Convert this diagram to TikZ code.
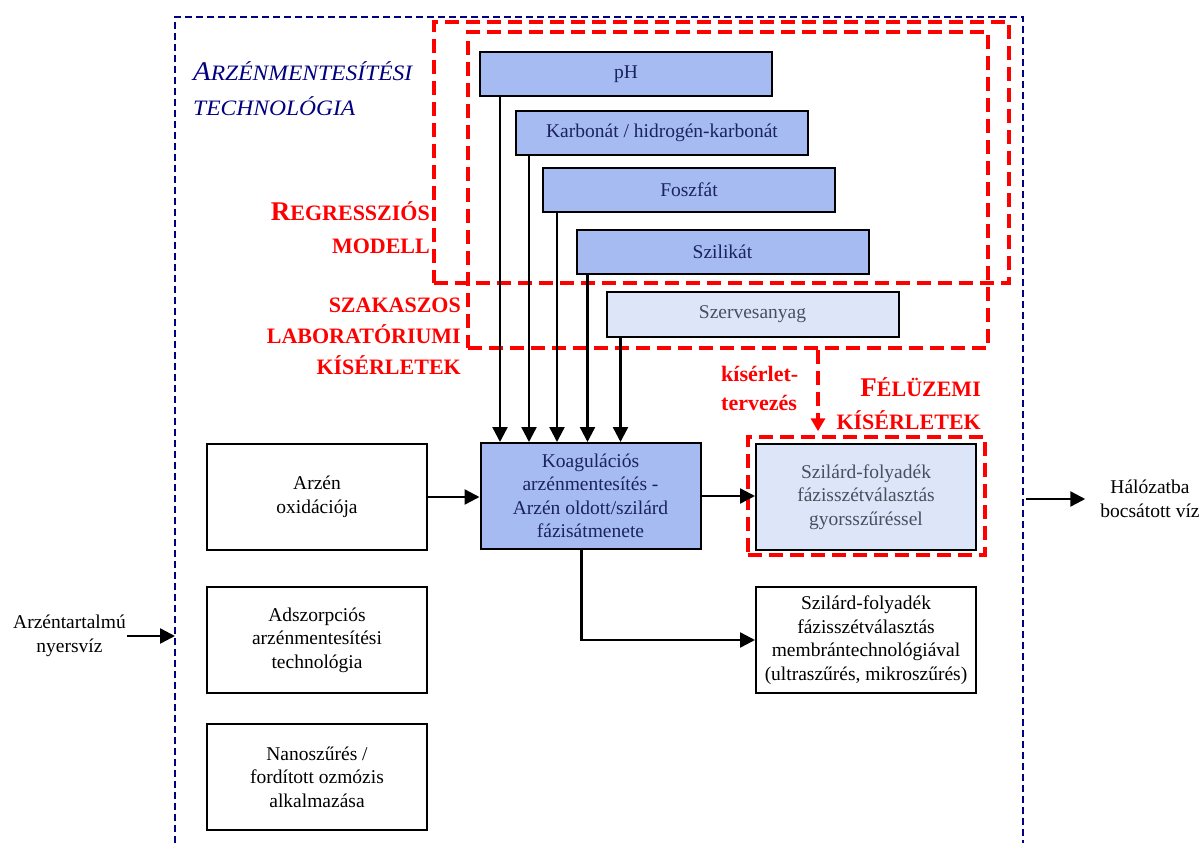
\documentclass[tikz,border=0pt]{standalone}
\usepackage{fontspec}
\setmainfont{Liberation Serif}
\newfontfamily\widefont[FakeStretch=1.07]{Liberation Serif}
\usetikzlibrary{arrows.meta,positioning}
\definecolor{AsNavy}{HTML}{000080}
\definecolor{AsInk}{HTML}{1C2260}
\definecolor{AsGrey}{HTML}{4A4F5E}
\definecolor{AsRed}{HTML}{FF0000}
\definecolor{AsBlue}{HTML}{A5BBF2}
\definecolor{AsPale}{HTML}{DDE6F9}
\tikzset{
  asbox/.style={
    draw=black,
    line width=2pt,
    minimum width=220pt,
    minimum height=106pt,
    align=center,
    inner sep=4pt,
    font=\fontsize{19.5}{23.5}\selectfont
  },
  asfactor/.style={
    asbox,
    fill=AsBlue,
    text=AsInk,
    minimum width=292pt,
    minimum height=44pt
  },
  asfaint/.style={
    asfactor,
    fill=AsPale,
    text=AsGrey
  },
  asframe/.style={draw=AsRed,line width=3.5pt,dash pattern=on 14pt off 7pt},
  asouter/.style={draw=AsNavy,line width=1.6pt,dash pattern=on 7pt off 4pt},
  asnote/.style={text=AsRed,inner sep=0pt,font=\fontsize{22}{32}\selectfont\bfseries},
  aslabel/.style={align=center,inner sep=1pt,font=\fontsize{19.5}{23.5}\selectfont},
  asarrow/.style={-{Triangle[length=15pt,width=15pt]},line width=2.4pt},
  asredarrow/.style={asframe,-{Triangle[length=13pt,width=14pt]}}
}

\begin{document}
\begin{tikzpicture}[x=1pt,y=-1pt]
    \useasboundingbox (0,0) rectangle (1204,843);
    % technology frame, open at the bottom
    \coordinate (frameSW) at (175,843);
    \coordinate (frameNE) at (1023,17);
    \coordinate (frameSE) at (1023,843);
    \draw[asouter] (frameSW) |- (frameNE) -- (frameSE);
    \node[anchor=west,align=left,inner sep=0pt,text=AsNavy,font=\widefont\itshape\fontsize{22}{35}\selectfont] (title) at (193,89) {{\fontsize{27}{35}\selectfont A}RZÉNMENTESÍTÉSI\\TECHNOLÓGIA};

    % experiment frames
    \node[asframe,minimum width=575pt,minimum height=261pt] (regmodel) at (721.5,152.5) {};
    \node[asframe,minimum width=520pt,minimum height=316pt] (szakaszos) at (728,190) {};
    \node[asframe,minimum width=237pt,minimum height=118pt] (feluzemi) at (866.5,496) {};

    % water quality factors
    \node[asfactor] (ph) at (626,74) {pH};
    \node[asfactor] (karbonat) at (662,132.5) {Karbonát / hidrogén-karbonát};
    \node[asfactor] (foszfat) at (689,190) {Foszfát};
    \node[asfactor] (szilikat) at (722.5,251.5) {Szilikát};
    \node[asfaint,minimum height=45pt] (szerves) at (752.5,314.5) {Szervesanyag};

    % treatment steps
    \node[asbox] (oxid) at (317,497) {Arzén\\oxidációja};
    \node[asbox] (adszorp) at (317,640) {Adszorpciós\\arzénmentesítési\\technológia};
    \node[asbox] (nano) at (317,777) {Nanoszűrés /\\fordított ozmózis\\alkalmazása};
    \node[asbox,fill=AsBlue,text=AsInk] (koag) at (590.5,496) {Koagulációs\\arzénmentesítés -\\Arzén oldott/szilárd\\fázisátmenete};
    \node[asbox,fill=AsPale,text=AsGrey] (gyors) at (866,497) {Szilárd-folyadék\\fázisszétválasztás\\gyorsszűréssel};
    \node[asbox] (membran) at (866,640) {Szilárd-folyadék\\fázisszétválasztás\\membrántechnológiával\\(ultraszűrés, mikroszűrés)};

    \node[aslabel,anchor=east] (nyers) at (127,636) {Arzéntartalmú\\nyersvíz};
    \node[aslabel] (halozat) at (1150,499) {Hálózatba\\bocsátott víz};

    % red notes
    \node[asnote,anchor=east,align=right,font=\fontsize{22}{33}\selectfont\bfseries] (regnote) at (430,228) {{\fontsize{27}{33}\selectfont R}EGRESSZIÓS\\MODELL};
    \node[asnote,anchor=east,align=right,font=\fontsize{22}{31}\selectfont\bfseries] (szaknote) at (461,336) {SZAKASZOS\\LABORATÓRIUMI\\KÍSÉRLETEK};
    \node[asnote,anchor=west,align=left,font=\fontsize{22}{29}\selectfont\bfseries] (tervnote) at (721,388) {kísérlet-\\tervezés};
    \node[asnote,anchor=east,align=right,font=\fontsize{22}{33}\selectfont\bfseries] (felnote) at (981,404) {{\fontsize{27}{33}\selectfont F}ÉLÜZEMI\\KÍSÉRLETEK};

    \draw[asarrow] ([xshift=21pt]ph.south west) -- ([xshift=21pt]ph.south west |- koag.north);
    \draw[asarrow] ([xshift=14pt]karbonat.south west) -- ([xshift=14pt]karbonat.south west |- koag.north);
    \draw[asarrow] ([xshift=15pt]foszfat.south west) -- ([xshift=15pt]foszfat.south west |- koag.north);
    \draw[asarrow] ([xshift=12pt]szilikat.south west) -- ([xshift=12pt]szilikat.south west |- koag.north);
    \draw[asarrow] ([xshift=15pt]szerves.south west) -- ([xshift=15pt]szerves.south west |- koag.north);
    \draw[asarrow] (oxid.east) -- (oxid.east -| koag.west);
    \draw[asarrow] (koag.east) -- (koag.east -| gyors.west);
    \draw[asarrow] ([xshift=-9pt]koag.south) |- (membran.west);
    \draw[asarrow] (nyers.east) -- (nyers.east -| frameSW);
    \draw[asarrow,shorten <=3pt,shorten >=14pt] (halozat.west -| frameNE) -- (halozat.west);
    \draw[asredarrow,shorten >=4pt] ([xshift=-48.5pt]feluzemi.north |- szakaszos.south) -- ([xshift=-48.5pt]feluzemi.north);
  \end{tikzpicture}
\end{document}
